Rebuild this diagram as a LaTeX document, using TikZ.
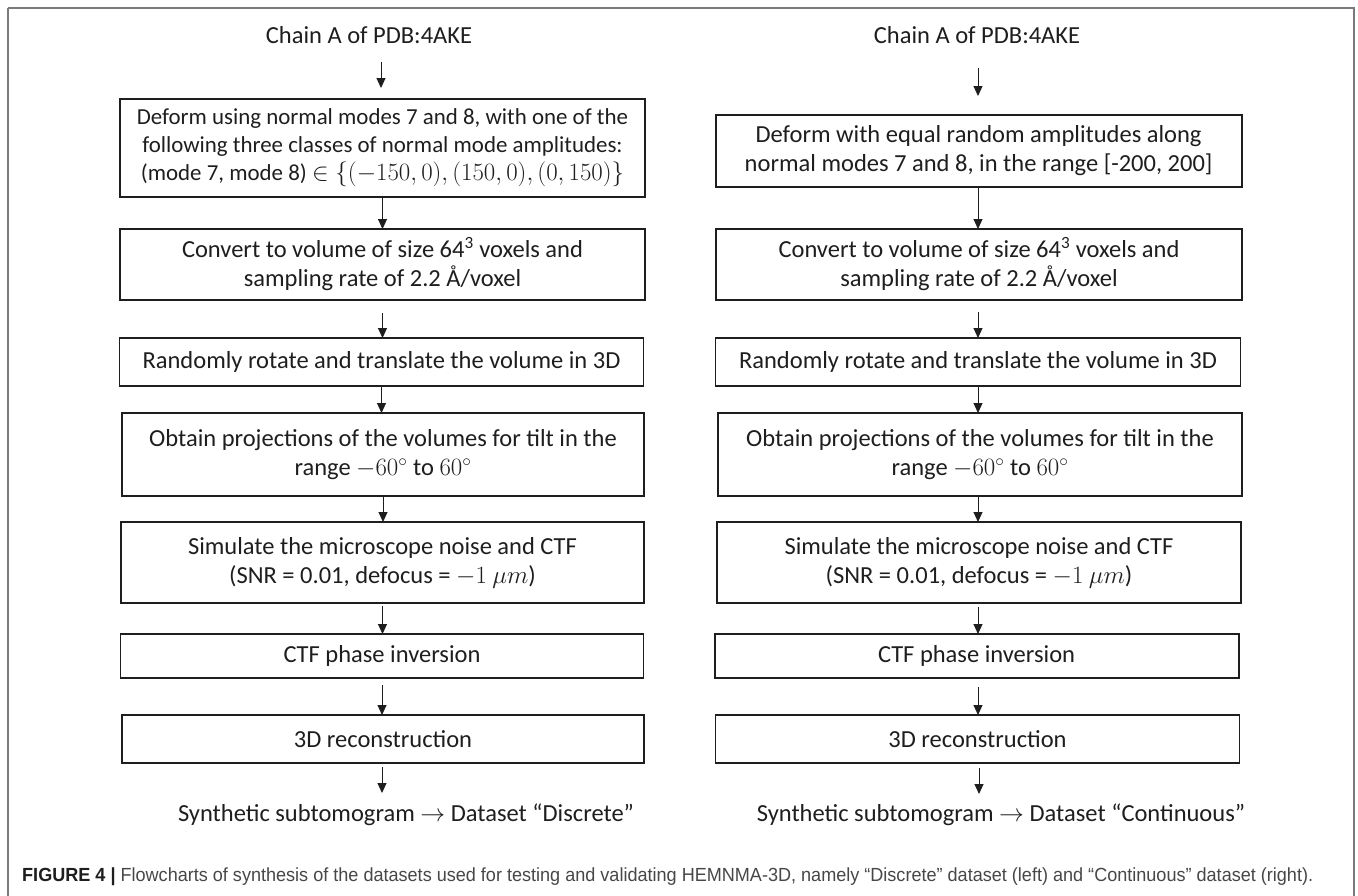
\documentclass[tikz,border=0pt]{standalone}
\usepackage{fontspec}
\usepackage{graphicx}
\setmainfont{Carlito}
\newfontfamily\capfont{Liberation Sans}
\usetikzlibrary{arrows.meta}
\definecolor{ink}{HTML}{1E1E1E}
\definecolor{framegray}{HTML}{7A7A7A}
\definecolor{capgray}{HTML}{474747}
\begin{document}
\begin{tikzpicture}[x=1pt,y=-1pt,
  fbox/.style={draw=ink, line width=1.9pt, inner sep=0pt, outer sep=0pt,
    align=center, text=ink, font=\fontsize{24.5}{29}\selectfont},
  plain/.style={inner sep=0pt, outer sep=0pt, text=ink, font=\fontsize{24.5}{29}\selectfont},
  arr/.style={draw=ink, line width=1pt, -{Triangle[length=10pt,width=9pt]}}
]
\useasboundingbox (0,0) rectangle (1358,895);
\draw[framegray, line width=1.5pt] (8,8) -- (1354,8) -- (1354,900) (8,8) -- (8,900);

% ---------- left column ----------
\node[plain] (chainL) at (369,35) {Chain A of PDB:4AKE};
\coordinate (topL) at (381,62);
\node[fbox, minimum width=525pt, minimum height=98pt, font=\fontsize{22.9}{28}\selectfont] (L1) at (382.5,148)
 {Deform using normal modes 7 and 8, with one of the\\following three classes of normal mode amplitudes:\\(mode 7, mode 8) $\in\{(-150,0),(150,0),(0,150)\}$};
\node[fbox, minimum width=525pt, minimum height=71pt] (L2) at (382.5,264.5)
 {Convert to volume of size 64\textsuperscript{3} voxels and\\sampling rate of 2.2 Å/voxel};
\node[fbox, minimum width=524pt, minimum height=48pt] (L3) at (381.5,362)
 {Randomly rotate and translate the volume in 3D};
\node[fbox, minimum width=522pt, minimum height=83pt] (L4) at (383,454.5)
 {Obtain projections of the volumes for tilt in the\\range $-60^\circ$ to $60^\circ$};
\node[fbox, minimum width=523pt, minimum height=81pt] (L5) at (382.5,562.5)
 {Simulate the microscope noise and CTF\\(SNR = 0.01, defocus = $-1\ \mu m$)};
\node[fbox, minimum width=523pt, minimum height=44pt] (L6) at (382,656)
 {CTF phase inversion};
\node[fbox, minimum width=522pt, minimum height=48pt] (L7) at (383,739)
 {3D reconstruction};
\coordinate (botL) at (382,793);
\node[plain] (synL) at (406,815) {Synthetic subtomogram $\rightarrow$ Dataset “Discrete”};

\draw[arr, shorten >=11pt] (topL) -- (topL |- L1.north);
\draw[arr] (L1.south) -- (L2.north);
\draw[arr, shorten <=13pt] (L2.south) -- (L2.south |- L3.north);
\draw[arr] (L3.south) -- (L3.south |- L4.north);
\draw[arr] (L4.south) -- (L4.south |- L5.north);
\draw[arr, shorten <=3pt] (L5.south) -- (L5.south |- L6.north);
\draw[arr, shorten <=7pt] (L6.south) -- (L6.south |- L7.north);
\draw[arr, shorten <=4pt] (L7.south -| botL) -- (botL);

% ---------- right column ----------
\node[plain] (chainR) at (977,35) {Chain A of PDB:4AKE};
\coordinate (topR) at (978,68);
\node[fbox, minimum width=526pt, minimum height=72pt] (R1) at (978.6,151)
 {Deform with equal random amplitudes along\\normal modes 7 and 8, in the range [-200, 200]};
\node[fbox, minimum width=526pt, minimum height=71pt] (R2) at (979,264.5)
 {Convert to volume of size 64\textsuperscript{3} voxels and\\sampling rate of 2.2 Å/voxel};
\node[fbox, minimum width=525pt, minimum height=48pt] (R3) at (978,362)
 {Randomly rotate and translate the volume in 3D};
\node[fbox, minimum width=524pt, minimum height=83pt] (R4) at (980,454.5)
 {Obtain projections of the volumes for tilt in the\\range $-60^\circ$ to $60^\circ$};
\node[fbox, minimum width=524pt, minimum height=81pt] (R5) at (979,562.5)
 {Simulate the microscope noise and CTF\\(SNR = 0.01, defocus = $-1\ \mu m$)};
\node[fbox, minimum width=524pt, minimum height=44pt] (R6) at (976.6,656)
 {CTF phase inversion};
\node[fbox, minimum width=524pt, minimum height=48pt] (R7) at (977.5,739)
 {3D reconstruction};
\coordinate (botR) at (979,794);
\node[plain] (synR) at (1001,815) {Synthetic subtomogram $\rightarrow$ Dataset “Continuous”};

\draw[arr, shorten >=19pt] (topR) -- (topR |- R1.north);
\draw[arr] (R1.south -| topR) -- (topR |- R2.north);
\draw[arr, shorten <=12pt] (R2.south -| topR) -- (topR |- R3.north);
\draw[arr] (R3.south -| topR) -- (topR |- R4.north);
\draw[arr] (R4.south -| topR) -- (topR |- R5.north);
\draw[arr, shorten <=4pt] (R5.south -| topR) -- (topR |- R6.north);
\draw[arr, shorten <=9pt] (R6.south -| topR) -- (topR |- R7.north);
\draw[arr, shorten <=5pt] (R7.south -| botR) -- (botR);

% ---------- caption ----------
\node[anchor=base west, inner sep=0pt] (cap) at (22,881)
 {\resizebox{1291pt}{\height}{\capfont\fontsize{19}{21}\selectfont
  \textcolor{ink}{\bfseries FIGURE 4 |} \textcolor{capgray}{Flowcharts of synthesis of the datasets used for testing and validating HEMNMA-3D, namely “Discrete” dataset (left) and “Continuous” dataset (right).}}};
\end{tikzpicture}
\end{document}
